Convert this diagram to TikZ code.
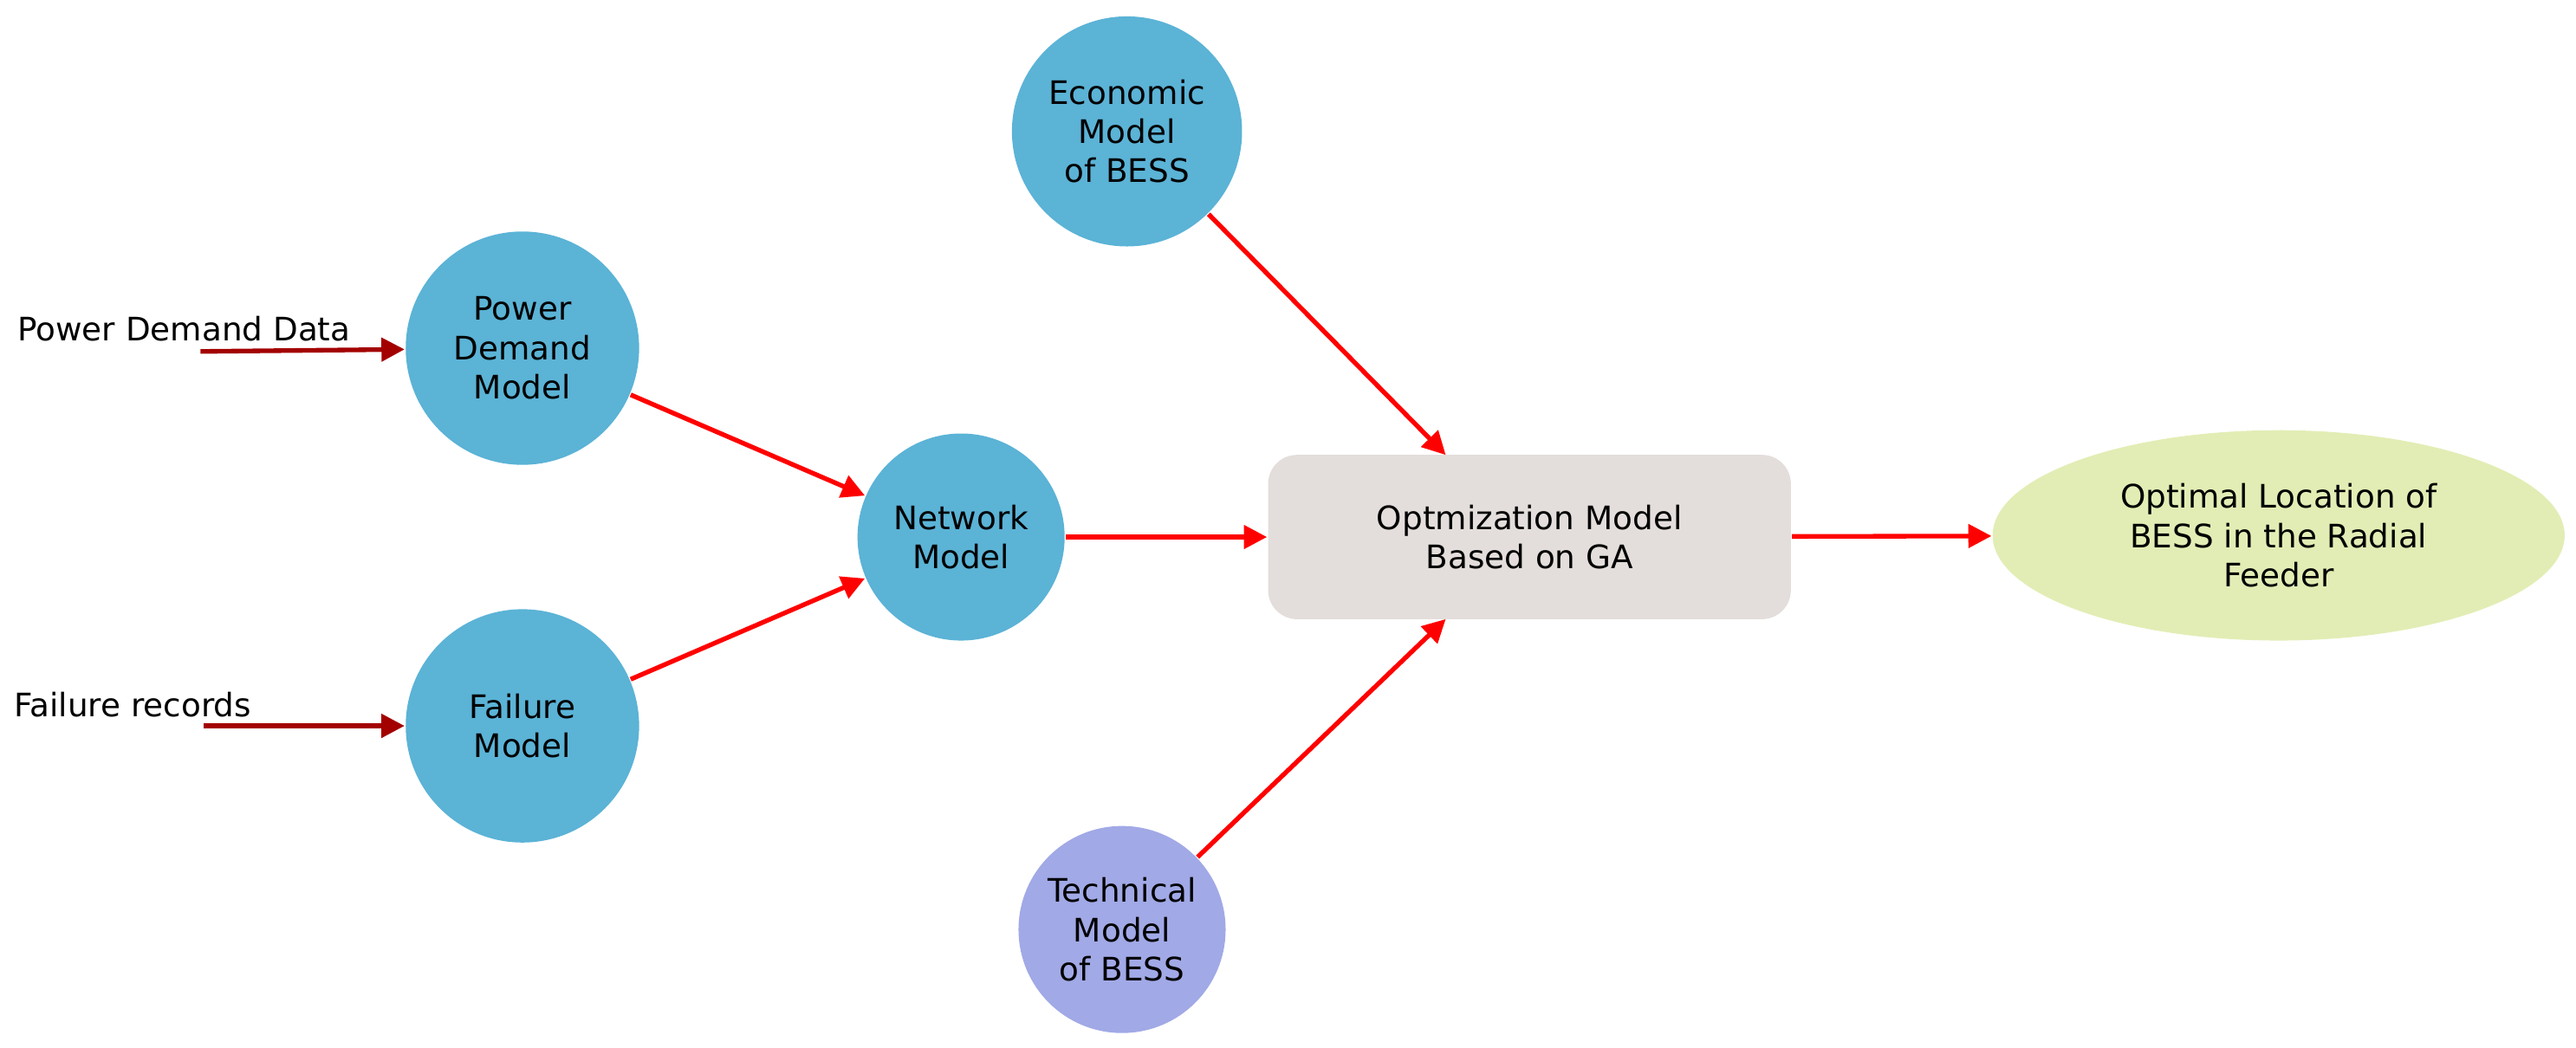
\documentclass[tikz,border=0pt]{standalone}
\usepackage{fontspec}
\setmainfont{DejaVu Sans}
\usetikzlibrary{shapes.geometric,arrows.meta}
\definecolor{cblue}{HTML}{5BB3D6}
\definecolor{cpurp}{HTML}{A1A9E6}
\definecolor{cgrey}{HTML}{E3DEDB}
\definecolor{cgreen}{HTML}{E2EDB5}
\definecolor{dred}{HTML}{A30000}
\begin{document}
\begin{tikzpicture}[x=0.01cm,y=-0.01cm,
  circ/.style={circle,fill=cblue,draw=none,inner sep=0,align=center,font=\fontsize{5.6}{6.8}\selectfont},
  lab/.style={font=\fontsize{5.6}{6.8}\selectfont,inner sep=0},
  ar/.style={red,line width=0.8pt,-{Triangle[length=4pt,width=4pt]}},
  dar/.style={dred,line width=0.8pt,-{Triangle[length=4pt,width=4pt]}}]
\useasboundingbox (0,0) rectangle (1568,638);
\node[circ,minimum size=1.40cm] (eco) at (686,80) {Economic\\Model\\of BESS};
\node[circ,minimum size=1.42cm] (pdm) at (318,212) {Power\\Demand\\Model};
\node[circ,minimum size=1.26cm] (net) at (585,327) {Network\\Model};
\node[circ,minimum size=1.42cm] (fm) at (318,442) {Failure\\Model};
\node[circ,fill=cpurp,minimum size=1.26cm] (tec) at (683,566) {Technical\\Model\\of BESS};
\node[rectangle,rounded corners=5pt,fill=cgrey,minimum width=3.18cm,minimum height=1.00cm,align=center,font=\fontsize{5.6}{6.8}\selectfont] (opt) at (931,327) {Optmization Model\\Based on GA};
\node[ellipse,fill=cgreen,minimum width=3.48cm,minimum height=1.28cm,inner sep=0,align=center,font=\fontsize{5.6}{6.8}\selectfont] (res) at (1387,326) {Optimal Location of\\BESS in the Radial\\Feeder};
\node[lab,anchor=west] (pdd) at (10,200) {Power Demand Data};
\node[lab,anchor=west] (fr) at (8,429) {Failure records};
\coordinate (pdds) at (122,214);
\coordinate (frs) at (124,442);
\draw[dar] (pdds) -- (pdm);
\draw[dar] (frs) -- (fm);
\draw[ar] (pdm) -- (net);
\draw[ar] (fm) -- (net);
\draw[ar] (net) -- (opt);
\draw[ar] (eco) -- (880,277);
\draw[ar] (tec) -- (880,377);
\draw[ar] (opt) -- (res);
\end{tikzpicture}
\end{document}
